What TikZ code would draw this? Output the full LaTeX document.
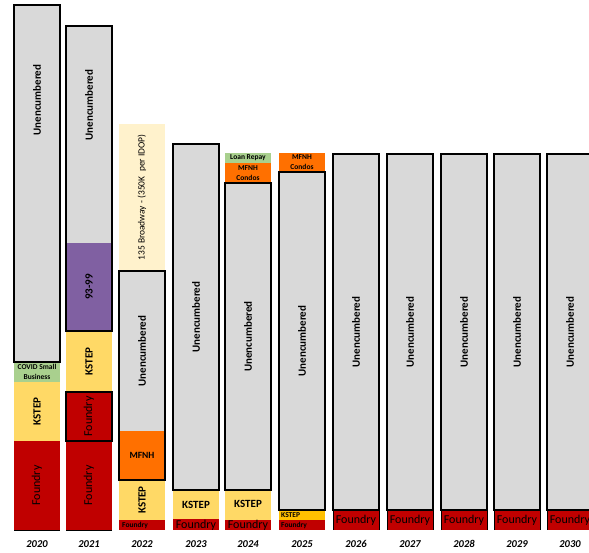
\documentclass[tikz,border=0pt]{standalone}
\usepackage{fontspec}
\setmainfont{Carlito}
\usetikzlibrary{positioning}
\definecolor{unencgray}{RGB}{217,217,217}
\definecolor{foundryred}{RGB}{192,0,0}
\definecolor{kstepyellow}{RGB}{255,217,102}
\definecolor{kstepamber}{RGB}{255,192,0}
\definecolor{covidgreen}{RGB}{169,208,142}
\definecolor{mfnhorange}{RGB}{255,112,0}
\definecolor{purpleblock}{RGB}{128,96,162}
\definecolor{broadwaycream}{RGB}{255,242,204}
\tikzset{
  frame/.style={draw=black, line width=2pt},
  edge/.style={draw=black, line width=0.6pt},
  vlbl/.style={rotate=90, inner sep=0pt, font=\bfseries\fontsize{11}{12}\selectfont},
  vlblthin/.style={rotate=90, inner sep=0pt, font=\fontsize{12}{13}\selectfont},
  hlbl/.style={inner sep=0pt, font=\bfseries\fontsize{11}{12}\selectfont},
  hlblthin/.style={inner sep=0pt, font=\fontsize{12}{13}\selectfont},
  tinylbl/.style={inner sep=0pt, align=center, font=\bfseries\fontsize{7.5}{10}\selectfont},
  yearlbl/.style={inner sep=0pt, font=\bfseries\itshape\fontsize{10.5}{12}\selectfont}
}
\begin{document}
\begin{tikzpicture}[x=1pt,y=-1pt]
\useasboundingbox (0,0) rectangle (589,552);
\clip (0,0) rectangle (589,552);
% 2020
\fill[unencgray] (14,5) rectangle (60,362);
\fill[covidgreen] (14,362) rectangle (60,382);
\fill[kstepyellow] (14,382) rectangle (60,441);
\fill[foundryred] (14,441) rectangle (60,530);
\draw[frame] (14,5) rectangle (60,362);
\draw[edge] (14,530) -- (60,530);
\node[vlbl] (unenc20) at (37,100) {Unencumbered};
\node[tinylbl] (covid20) at (37,372) {COVID Small\\Business};
\node[vlbl] (kstep20) at (37,411.5) {KSTEP};
\node[vlblthin] (found20) at (37,485.5) {Foundry};
% 2021
\fill[unencgray] (66,26) rectangle (112,243);
\fill[purpleblock] (66,243) rectangle (112,331);
\fill[kstepyellow] (66,331) rectangle (112,392);
\fill[foundryred] (66,392) rectangle (112,530);
\draw[frame] (66,26) rectangle (112,331);
\draw[frame] (66,392) rectangle (112,441);
\draw[edge] (66,530) -- (112,530);
\node[vlbl] (unenc21) at (89,105) {Unencumbered};
\node[vlbl] (block21) at (89,287) {93-99};
\node[vlbl] (kstep21) at (89,361.5) {KSTEP};
\node[vlblthin] (foundup21) at (89,416.5) {Foundry};
\node[vlblthin] (found21) at (89,485.5) {Foundry};
% 2022
\fill[broadwaycream] (119,124) rectangle (165,271);
\fill[unencgray] (119,271) rectangle (165,431);
\fill[mfnhorange] (119,431) rectangle (165,480);
\fill[kstepyellow] (119,480) rectangle (165,520);
\fill[foundryred] (119,520) rectangle (165,530);
\draw[frame] (119,271) rectangle (165,480);
\node[rotate=90, inner sep=0pt, font=\fontsize{9.5}{11}\selectfont] (bway22) at (142,197.5) {135 Broadway - (350K~~per IDOP)};
\node[vlbl] (unenc22) at (142,351) {Unencumbered};
\node[hlbl, font=\bfseries\fontsize{9.5}{11}\selectfont] (mfnh22) at (142,455.5) {MFNH};
\node[vlbl] (kstep22) at (142,500) {KSTEP};
\node[tinylbl, anchor=west] (found22) at (122,525) {Foundry};
% 2023
\fill[unencgray] (173,144) rectangle (219,490);
\fill[kstepyellow] (173,490) rectangle (219,519);
\fill[foundryred] (173,519) rectangle (219,530);
\draw[frame] (173,144) rectangle (219,490);
\node[vlbl] (unenc23) at (196,317) {Unencumbered};
\node[hlbl] (kstep23) at (196,504.5) {KSTEP};
\node[hlblthin] (found23) at (196,525.5) {Foundry};
% 2024
\fill[covidgreen] (225,153) rectangle (271,163);
\fill[mfnhorange] (225,163) rectangle (271,183);
\fill[unencgray] (225,183) rectangle (271,490);
\fill[kstepyellow] (225,490) rectangle (271,520);
\fill[foundryred] (225,520) rectangle (271,530);
\draw[frame] (225,183) rectangle (271,490);
\node[tinylbl] (loan24) at (248,158) {Loan Repay};
\node[tinylbl] (condo24) at (248,173) {MFNH\\Condos};
\node[vlbl] (unenc24) at (248,336.5) {Unencumbered};
\node[hlbl] (kstep24) at (248,504) {KSTEP};
\node[hlblthin] (found24) at (248,525.5) {Foundry};
% 2025
\fill[mfnhorange] (279,153) rectangle (325,172);
\fill[unencgray] (279,172) rectangle (325,510);
\fill[kstepamber] (279,510) rectangle (325,520);
\fill[foundryred] (279,520) rectangle (325,530);
\draw[frame] (279,172) rectangle (325,510);
\node[tinylbl] (condo25) at (302,162.5) {MFNH\\Condos};
\node[vlbl] (unenc25) at (302,341) {Unencumbered};
\node[tinylbl, anchor=west] (kstep25) at (281,515) {KSTEP};
\node[tinylbl, anchor=west] (found25) at (281,525) {Foundry};
% 2026 - 2030
\foreach \x/\yr in {333/26,387/27,441/28,494/29,547/30}{
  \fill[unencgray] (\x,154) rectangle ++(46,356);
  \fill[foundryred] (\x,510) rectangle ++(46,20);
  \draw[edge] (\x,510) -- ++(0,20) (\x+46,510) -- ++(0,20);
  \draw[frame] (\x,154) rectangle ++(46,356);
  \node[vlbl] (unenc\yr) at (\x+23,332) {Unencumbered};
  \node[hlblthin] (found\yr) at (\x+23,520) {Foundry};
}
% years
\foreach \x/\yr in {37/2020,89/2021,142/2022,196/2023,248/2024,302/2025,356/2026,410/2027,464/2028,517/2029,570/2030}
  \node[yearlbl] (yr\yr) at (\x,544) {\yr};
\end{tikzpicture}
\end{document}
